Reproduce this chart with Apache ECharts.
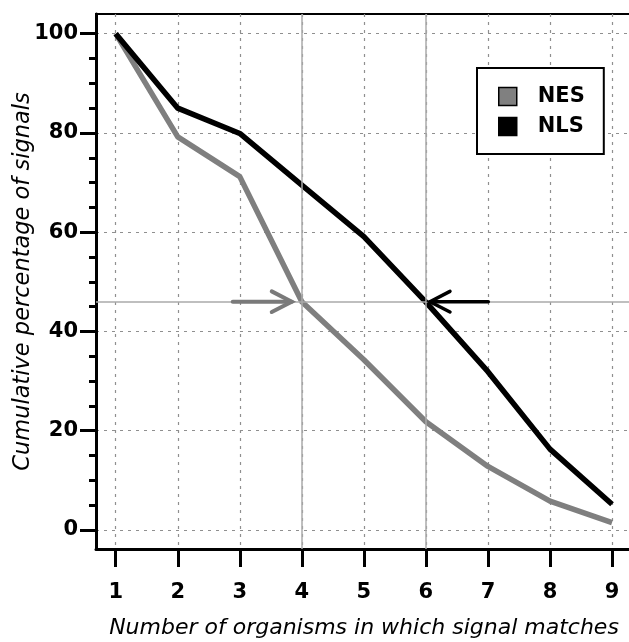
<!DOCTYPE html>
<html>
<head>
<meta charset="utf-8">
<script src="https://cdn.jsdelivr.net/npm/echarts@6/dist/echarts.min.js"></script>
<style>html,body{margin:0;padding:0;background:#fff}#c{width:629px;height:642px}</style>
</head>
<body>
<div id="c"></div>
<script>
// ---- data ----
var organisms = [1, 2, 3, 4, 5, 6, 7, 8, 9];
var nesValues = [100, 79.2, 71.2, 46, 34.3, 21.8, 12.8, 5.8, 1.5];
var nlsValues = [100, 85.0, 79.9, 69.5, 59.1, 45.9, 31.9, 16.3, 5.2];
var yTickLabels = [0, 20, 40, 60, 80, 100];
var yMinorTicks = [5, 10, 15, 25, 30, 35, 45, 50, 55, 65, 70, 75, 85, 90, 95];
var xTickLabels = [1, 2, 3, 4, 5, 6, 7, 8, 9];
var refX = [4, 6];
var refY = [46];
// arrows (annotation): shaft and head points in data units
var nesArrowShaft = [[2.886, 46], [3.837, 46]];
var nesArrowHead = [[3.515, 48.08], [3.837, 46], [3.515, 43.92]];
var nlsArrowShaft = [[7.006, 46], [6.066, 46]];
var nlsArrowHead = [[6.388, 48.08], [6.066, 46], [6.388, 43.92]];

var FONT = 'DejaVu Sans';
var chart = echarts.init(document.getElementById('c'), null, {renderer: 'canvas'});

function pairs(xs, ys) { return xs.map(function (x, i) { return [x, ys[i]]; }); }

var gridLine = {show: true, lineStyle: {color: '#8f8f8f', width: 1.2, type: [3, 5]}};

var option = {
  backgroundColor: '#fff',
  animation: false,
  grid: {left: 96, right: -3, top: 14, bottom: 93, show: true, borderColor: '#000', borderWidth: 2,
    containLabel: false, outerBoundsMode: 'none'},
  xAxis: [{
    type: 'value', min: 0.682, max: 9.322,
    axisLine: {show: true, onZero: false, lineStyle: {color: '#000', width: 3}},
    axisTick: {show: true, customValues: xTickLabels, length: 18, lineStyle: {color: '#000', width: 3}},
    axisLabel: {customValues: xTickLabels, margin: 33, color: '#000', fontFamily: FONT, fontWeight: 'bold', fontSize: 21},
    splitLine: gridLine,
    name: 'Number of organisms in which signal matches', nameLocation: 'middle', nameGap: 68,
    nameMoveOverlap: false,
    nameTextStyle: {fontFamily: FONT, fontStyle: 'italic', fontSize: 22, color: '#000'}
  }],
  yAxis: [{
    type: 'value', min: -3.83, max: 103.97,
    axisLine: {show: true, onZero: false, lineStyle: {color: '#000', width: 3}},
    axisTick: {show: true, customValues: yTickLabels, length: 16, lineStyle: {color: '#000', width: 3}},
    axisLabel: {customValues: yTickLabels, margin: 18, color: '#000', fontFamily: FONT, fontWeight: 'bold', fontSize: 21},
    splitLine: gridLine,
    name: 'Cumulative percentage of signals', nameLocation: 'middle', nameGap: 61,
    nameMoveOverlap: false,
    nameTextStyle: {fontFamily: FONT, fontStyle: 'italic', fontSize: 22.5, color: '#000'}
  }, {
    type: 'value', min: -3.83, max: 103.97, position: 'left',
    axisLine: {show: false},
    axisTick: {show: true, customValues: yMinorTicks, length: 7, lineStyle: {color: '#000', width: 3}},
    axisLabel: {show: false},
    splitLine: {show: false}
  }],
  legend: {
    orient: 'vertical', left: 477, top: 68,
    padding: [18, 19, 17, 21],
    borderColor: '#000', borderWidth: 2, backgroundColor: '#fff',
    itemWidth: 18, itemHeight: 18, itemGap: 9, icon: 'rect',
    textStyle: {fontFamily: FONT, fontWeight: 'bold', fontSize: 21, color: '#000', padding: [0, 0, 0, 16]},
    data: [
      {name: 'NES', itemStyle: {color: '#808080', borderColor: '#000', borderWidth: 1.5}},
      {name: 'NLS', itemStyle: {color: '#000', borderColor: '#000', borderWidth: 1.5}}
    ]
  },
  series: [
    {
      name: 'refs', type: 'line', data: [], silent: true,
      markLine: {
        silent: true, symbol: 'none', label: {show: false},
        lineStyle: {color: '#aaaaaa', width: 1.5, type: 'solid'},
        data: refX.map(function (v) { return {xAxis: v}; }).concat(refY.map(function (v) { return {yAxis: v}; }))
      }
    },
    {
      name: 'NES', type: 'line', data: pairs(organisms, nesValues), showSymbol: false,
      itemStyle: {color: '#7f7f7f'}, lineStyle: {color: '#7f7f7f', width: 5.5, join: 'round'}, z: 3
    },
    {
      name: 'NLS', type: 'line', data: pairs(organisms, nlsValues), showSymbol: false,
      itemStyle: {color: '#000'}, lineStyle: {color: '#000', width: 5.5, join: 'round'}, z: 4
    },
    {name: 'nesArrowShaft', type: 'line', data: nesArrowShaft, showSymbol: false, silent: true,
      lineStyle: {color: '#7a7a7a', width: 4, cap: 'round'}, z: 5},
    {name: 'nesArrowHead', type: 'line', data: nesArrowHead, showSymbol: false, silent: true,
      lineStyle: {color: '#7a7a7a', width: 4, cap: 'round', join: 'miter'}, z: 5},
    {name: 'nlsArrowShaft', type: 'line', data: nlsArrowShaft, showSymbol: false, silent: true,
      lineStyle: {color: '#000', width: 3.5, cap: 'round'}, z: 5},
    {name: 'nlsArrowHead', type: 'line', data: nlsArrowHead, showSymbol: false, silent: true,
      lineStyle: {color: '#000', width: 3.5, cap: 'round', join: 'miter'}, z: 5}
  ]
};
chart.setOption(option);
</script>
</body>
</html>
